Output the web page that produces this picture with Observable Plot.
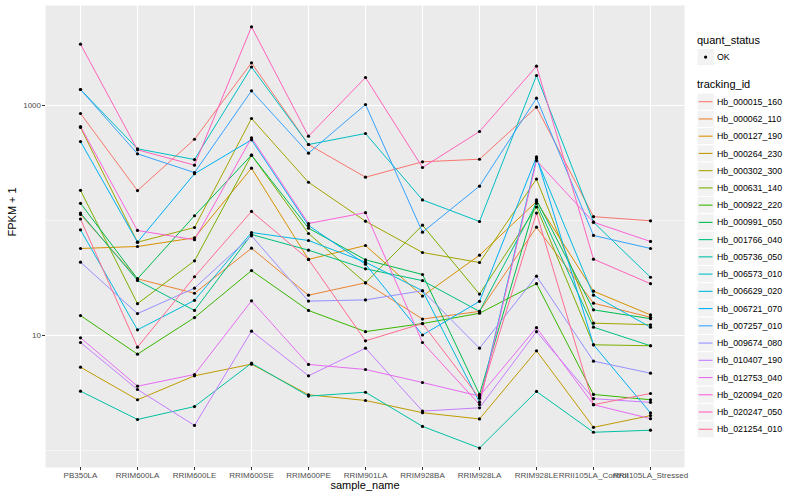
<!DOCTYPE html>
<html><head><meta charset="utf-8">
<script src="https://cdn.jsdelivr.net/npm/d3@7"></script>
<script src="https://cdn.jsdelivr.net/npm/@observablehq/plot@0.6"></script>
<style>
body{margin:0;background:#fff;font-family:"Liberation Sans",Arial,sans-serif;}
#wrap{position:relative;width:800px;height:500px;overflow:hidden;}
#chart{position:absolute;left:0;top:0;}
#legend{position:absolute;left:0;top:0;}
</style></head><body>
<div id="wrap"><div id="chart"></div><svg id="legend" width="800" height="500" style="pointer-events:none"></svg></div>
<script>
const samples = ["PB350LA","RRIM600LA","RRIM600LE","RRIM600SE","RRIM600PE","RRIM901LA","RRIM928BA","RRIM928LA","RRIM928LE","RRII105LA_Control","RRII105LA_Stressed"];
const ids = ["Hb_000015_160","Hb_000062_110","Hb_000127_190","Hb_000264_230","Hb_000302_300","Hb_000631_140","Hb_000922_220","Hb_000991_050","Hb_001766_040","Hb_005736_050","Hb_006573_010","Hb_006629_020","Hb_006721_070","Hb_007257_010","Hb_009674_080","Hb_010407_190","Hb_012753_040","Hb_020094_020","Hb_020247_050","Hb_021254_010"];
const colors = ["#F8766D","#EA8331","#D89000","#C09B00","#A3A500","#7CAE00","#39B600","#00BB4E","#00BF7D","#00C1A3","#00BFC4","#00BAE0","#00B0F6","#35A2FF","#9590FF","#C77CFF","#E76BF3","#FA62DB","#FF62BC","#FF6C91"];
const yTicks = [10, 1000];
const yMinor = [1, 100];

// FPKM + 1 per sample (order of samples)
const Hb_000015_160 = [852,182,509,2351,458,238,324,341,967,108,99.4];
const Hb_000062_110 = [113,31.1,23.3,57.4,22.4,28.7,13.9,16.2,87.5,19.1,14.4];
const Hb_000127_190 = [57.1,59.4,70.7,285,45.9,60.6,22.0,49.9,146,24.3,15.1];
const Hb_000264_230 = [5.30,2.76,4.46,5.63,3.05,2.72,2.13,1.88,7.36,1.59,2.01];
const Hb_000302_300 = [644,64.8,86.9,771,215,98.6,52.7,43.1,229,12.8,12.4];
const Hb_000631_140 = [183,18.9,44.6,370,77.1,28.7,91.0,22.9,131,8.30,8.14];
const Hb_000922_220 = [14.9,6.88,14.3,36.7,16.5,10.8,12.7,15.6,28.2,3.07,2.76];
const Hb_000991_050 = [141,31.1,110,370,85.7,45.5,33.9,3.07,151,16.7,14.0];
const Hb_001766_040 = [116,30.1,16.5,75.5,55.2,38.0,30.0,16.2,141,11.8,8.14];
const Hb_005736_050 = [3.28,1.86,2.41,5.74,2.97,3.21,1.62,1.05,3.26,1.44,1.50];
const Hb_006573_010 = [1378,420,339,2161,458,571,151,98.0,1823,96.6,32.1];
const Hb_006629_020 = [83.0,11.2,20.2,78.6,67.0,43.4,24.5,2.63,346,22.4,11.8];
const Hb_006721_070 = [486,64.8,255,503,90.5,41.7,10.1,19.8,358,8.30,2.12];
const Hb_007257_010 = [1378,380,261,1342,385,1020,79.1,199,1157,74.1,57.1];
const Hb_009674_080 = [43.4,15.5,25.8,73.6,19.9,20.4,24.5,7.75,32.8,5.98,4.70];
const Hb_010407_190 = [8.69,3.39,1.65,10.9,4.46,7.75,2.20,2.35,10.8,2.82,2.62];
const Hb_012753_040 = [9.55,3.62,4.58,20.0,5.60,5.06,3.90,2.97,11.7,2.50,1.89];
const Hb_020094_020 = [657,81.9,68.0,524,94.2,117,8.69,2.51,332,96.6,65.7];
const Hb_020247_050 = [3412,412,303,4834,541,1752,289,594,2196,46.1,28.2];
const Hb_021254_010 = [103,7.91,32.4,120,45.9,8.99,12.7,2.85,116,2.50,3.13];
const seriesValues = [Hb_000015_160,Hb_000062_110,Hb_000127_190,Hb_000264_230,Hb_000302_300,Hb_000631_140,Hb_000922_220,Hb_000991_050,Hb_001766_040,Hb_005736_050,Hb_006573_010,Hb_006629_020,Hb_006721_070,Hb_007257_010,Hb_009674_080,Hb_010407_190,Hb_012753_040,Hb_020094_020,Hb_020247_050,Hb_021254_010];

const rows = [];
ids.forEach((id, i) => seriesValues[i].forEach((v, j) => rows.push({id, sample: samples[j], value: v, status: "OK"})));

const font = "Liberation Sans, Arial, sans-serif";
const chart = Plot.plot({
  width: 688, height: 500,
  marginLeft: 45, marginRight: 4, marginTop: 5, marginBottom: 33,
  style: {fontFamily: font, fontSize: "8px", background: "transparent", overflow: "visible"},
  x: {type: "point", domain: samples, padding: 0.6},
  y: {type: "log", domain: [0.711, 7408]},
  color: {domain: ids, range: colors},
  marks: [
    Plot.frame({fill: "#EBEBEB", stroke: "none"}),
    Plot.ruleY(yMinor, {stroke: "white", strokeWidth: 0.55}),
    Plot.ruleY(yTicks, {stroke: "white", strokeWidth: 1.1}),
    Plot.ruleX(samples, {stroke: "white", strokeWidth: 1.1}),
    Plot.line(rows, {x: "sample", y: "value", z: "id", stroke: "id", strokeWidth: 1}),
    Plot.dot(rows, {x: "sample", y: "value", fill: "black", r: 1.6}),
    Plot.axisY(yTicks, {tickSize: 3, tickPadding: 1.5, tickFormat: d => String(d), stroke: "#333333", fill: "#4D4D4D", label: null, fontSize: 8}),
    Plot.axisX({tickSize: 3, tickPadding: 2, stroke: "#333333", fill: "#4D4D4D", label: null, fontSize: 8}),
    Plot.text(["FPKM + 1"], {text: d => d, frameAnchor: "left", rotate: -90, dx: -33, fontSize: 11, fill: "black"}),
    Plot.text(["sample_name"], {text: d => d, frameAnchor: "bottom", dy: 21, fontSize: 11, fill: "black"})
  ]
});
document.getElementById("chart").appendChild(chart);

// legend
const lg = d3.select("#legend").append("g").style("font-family", font);
lg.append("text").attr("x", 697).attr("y", 40).attr("dy", "0.35em").attr("font-size", 11).text("quant_status");
lg.append("rect").attr("x", 697).attr("y", 48.5).attr("width", 17.2).attr("height", 17.2).attr("fill", "#F2F2F2").attr("stroke", "white");
lg.append("circle").attr("cx", 705.6).attr("cy", 57.1).attr("r", 1.6).attr("fill", "black");
lg.append("text").attr("x", 717).attr("y", 57.1).attr("dy", "0.35em").attr("font-size", 8.8).text("OK");
lg.append("text").attr("x", 697).attr("y", 84).attr("dy", "0.35em").attr("font-size", 11).text("tracking_id");
ids.forEach((id, i) => {
  const cy = 101.7 + i * 17.24;
  lg.append("rect").attr("x", 697).attr("y", cy - 8.6).attr("width", 17.2).attr("height", 17.2).attr("fill", "#F2F2F2").attr("stroke", "white");
  lg.append("line").attr("x1", 698.7).attr("x2", 712.5).attr("y1", cy).attr("y2", cy).attr("stroke", colors[i]).attr("stroke-width", 1.1);
  lg.append("text").attr("x", 717).attr("y", cy).attr("dy", "0.35em").attr("font-size", 8.8).text(id);
});
</script></body></html>
